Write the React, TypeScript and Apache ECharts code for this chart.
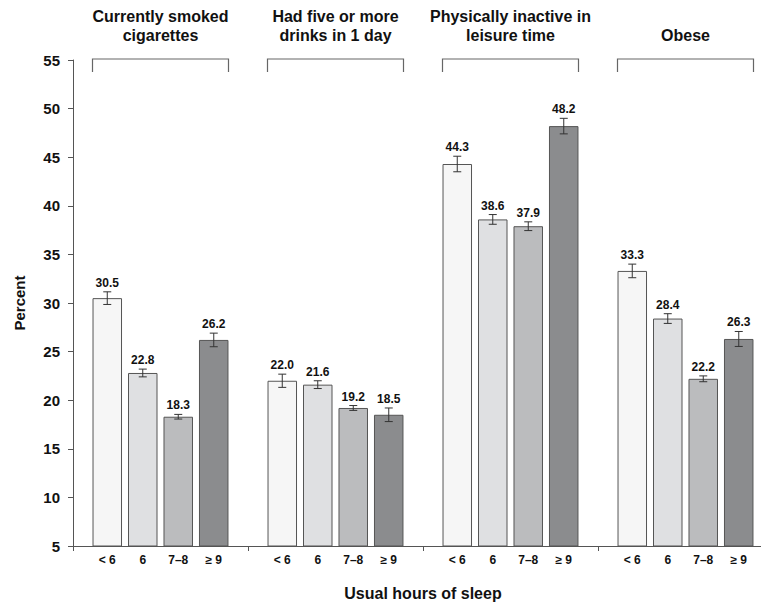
import React, { useEffect, useRef } from "react";
import * as echarts from "echarts";

const groupNames = [
  "Currently smoked\ncigarettes",
  "Had five or more\ndrinks in 1 day",
  "Physically inactive in\nleisure time",
  "Obese",
];
const sleepHours = ["< 6", "6", "7–8", "≥ 9"];
const lessThan6 = [30.5, 22.0, 44.3, 33.3];
const six = [22.8, 21.6, 38.6, 28.4];
const sevenToEight = [18.3, 19.2, 37.9, 22.2];
const nineOrMore = [26.2, 18.5, 48.2, 26.3];
const errLessThan6 = [0.65, 0.68, 0.8, 0.7];
const errSix = [0.4, 0.4, 0.5, 0.5];
const errSevenToEight = [0.24, 0.25, 0.45, 0.3];
const errNineOrMore = [0.7, 0.7, 0.8, 0.77];
const yTicks = { min: 5, max: 55, interval: 5 };

const seriesValues = [lessThan6, six, sevenToEight, nineOrMore];
const seriesErrors = [errLessThan6, errSix, errSevenToEight, errNineOrMore];
const barColors = ["#f6f6f6", "#dfe0e2", "#bbbcbe", "#8b8c8e"];

const FONT = '"Liberation Sans", Arial, Helvetica, sans-serif';
const BAR_W = 29.5;
const GAP_PX = 6;
const PITCH = BAR_W + GAP_PX;

export default function App() {
  const ref = useRef<HTMLDivElement>(null);
  useEffect(() => {
    if (!ref.current) return;
    const chart = echarts.init(ref.current, undefined, { renderer: "svg" });

    const errData: number[][] = [];
    seriesValues.forEach((vals, s) => {
      vals.forEach((v, g) => {
        errData.push([g, v, s, seriesErrors[s][g]]);
      });
    });

    const barSeries = seriesValues.map((vals, s) => ({
      type: "bar",
      name: sleepHours[s],
      data: vals,
      barWidth: BAR_W,
      barGap: `${((GAP_PX / BAR_W) * 100).toFixed(1)}%`,
      itemStyle: { color: barColors[s], borderColor: "#555", borderWidth: 1 },
      z: 2,
    }));

    const textStyle = (text: string, size: number, align: string, vAlign: string, extra: any = {}) => ({
      text,
      font: `bold ${size}px ${FONT}`,
      fontSize: size,
      fontWeight: "bold",
      fontFamily: FONT,
      fill: "#111",
      align,
      textAlign: align,
      verticalAlign: vAlign,
      textVerticalAlign: vAlign,
      ...extra,
    });

    const option: any = {
      animation: false,
      grid: { left: 73, top: 60, width: 700, height: 486, containLabel: false, outerBoundsMode: "none" },
      xAxis: {
        type: "category",
        data: groupNames,
        name: "Usual hours of sleep",
        nameLocation: "middle",
        nameGap: 39,
        nameTextStyle: { fontFamily: FONT, fontWeight: "bold", fontSize: 16, color: "#111" },
        axisLine: { show: true, lineStyle: { color: "#555", width: 1 } },
        axisTick: { show: true, length: 5, inside: false, alignWithLabel: false, lineStyle: { color: "#555" } },
        axisLabel: { show: false },
        splitLine: { show: false },
      },
      yAxis: {
        type: "value",
        min: yTicks.min,
        max: yTicks.max,
        interval: yTicks.interval,
        name: "Percent",
        nameLocation: "middle",
        nameGap: 46,
        nameRotate: 90,
        nameTextStyle: { fontFamily: FONT, fontWeight: "bold", fontSize: 15, color: "#111" },
        axisLine: { show: true, lineStyle: { color: "#555", width: 1 } },
        axisTick: { show: true, length: 5, inside: false, lineStyle: { color: "#555" } },
        axisLabel: { margin: 13, fontFamily: FONT, fontWeight: "bold", fontSize: 15, color: "#111" },
        splitLine: { show: false },
      },
      series: [
        ...barSeries,
        {
          type: "custom",
          name: "errors",
          data: errData,
          encode: { x: 0, y: 1 },
          clip: false,
          z: 5,
          renderItem: (params: any, api: any) => {
            const g = api.value(0);
            const v = api.value(1);
            const s = api.value(2);
            const e = api.value(3);
            const c = api.coord([g, v]);
            const x = c[0] + (s - 1.5) * PITCH;
            const top = api.coord([g, v + e])[1];
            const bot = api.coord([g, v - e])[1];
            const base = api.coord([g, yTicks.min])[1];
            const cap = 4;
            const ls = { stroke: "#333", lineWidth: 1 };
            return {
              type: "group",
              children: [
                { type: "line", shape: { x1: x, y1: top, x2: x, y2: bot }, style: ls },
                { type: "line", shape: { x1: x - cap, y1: top, x2: x + cap, y2: top }, style: ls },
                { type: "line", shape: { x1: x - cap, y1: bot, x2: x + cap, y2: bot }, style: ls },
                {
                  type: "text",
                  x,
                  y: top - 9,
                  style: textStyle(v.toFixed(1), 12, "center", "middle"),
                },
                {
                  type: "text",
                  x,
                  y: base + 14,
                  style: textStyle(sleepHours[s], 12, "center", "middle"),
                },
              ],
            };
          },
        },
        {
          type: "custom",
          name: "headers",
          data: groupNames.map((_, i) => [i, yTicks.max]),
          encode: { x: 0, y: 1 },
          clip: false,
          z: 5,
          renderItem: (params: any, api: any) => {
            const g = api.value(0);
            const c = api.coord([g, api.value(1)]);
            const left = c[0] - 1.5 * PITCH - BAR_W / 2;
            const right = c[0] + 1.5 * PITCH + BAR_W / 2;
            const y = c[1] - 1;
            return {
              type: "group",
              children: [
                {
                  type: "polyline",
                  shape: { points: [[left, y + 13], [left, y], [right, y], [right, y + 13]] },
                  style: { stroke: "#666", lineWidth: 1.2, fill: null },
                },
                {
                  type: "text",
                  x: c[0],
                  y: y - 14,
                  style: textStyle(groupNames[g], 16, "center", "bottom", { lineHeight: 19 }),
                },
              ],
            };
          },
        },
      ],
    };
    chart.setOption(option);
    return () => chart.dispose();
  }, []);

  return (
    <div
      ref={ref}
      style={{ position: "fixed", left: 0, top: 0, width: 761, height: 605, background: "#fff" }}
    />
  );
}
